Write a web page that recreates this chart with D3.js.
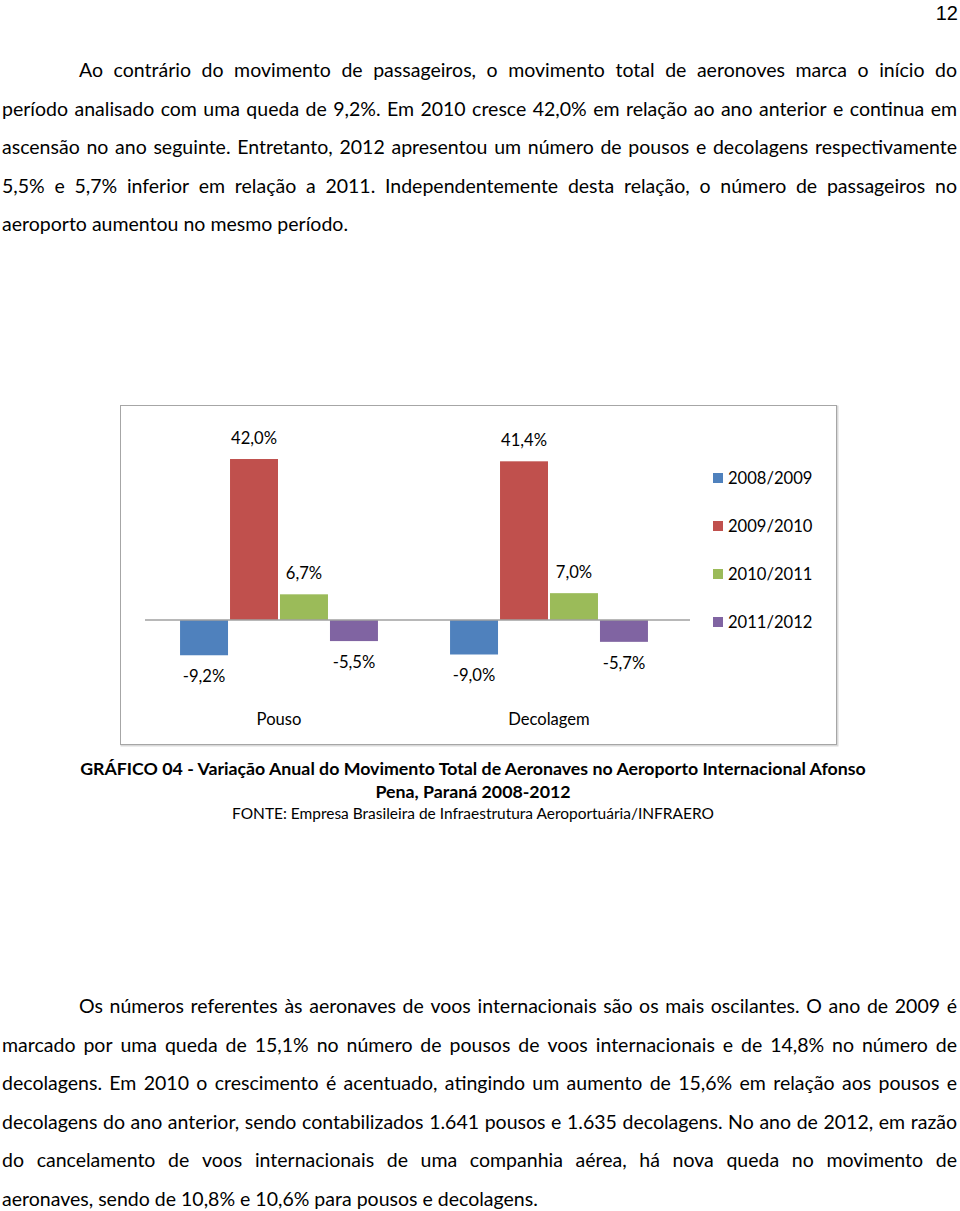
<!DOCTYPE html>
<html><head><meta charset="utf-8">
<script src="https://cdn.jsdelivr.net/npm/d3@7"></script>
<style>body{margin:0;background:#fff}svg{display:block}</style>
</head><body>
<script>
// ---- data ----
const categories = ["Pouso", "Decolagem"];
const series = ["2008/2009", "2009/2010", "2010/2011", "2011/2012"];
const pousoValues = [-9.2, 42.0, 6.7, -5.5];
const decolagemValues = [-9.0, 41.4, 7.0, -5.7];
const seriesColors = ["#4F81BD", "#C0504D", "#9BBB59", "#8064A2"];

const para1 = [
  "Ao contrário do movimento de passageiros, o movimento total de aeronoves marca o início do",
  "período analisado com uma queda de 9,2%. Em 2010 cresce 42,0% em relação ao ano anterior e continua em",
  "ascensão no ano seguinte. Entretanto, 2012 apresentou um número de pousos e decolagens respectivamente",
  "5,5% e 5,7% inferior em relação a 2011. Independentemente desta relação, o número de passageiros no",
  "aeroporto aumentou no mesmo período."
];
const para2 = [
  "Os números referentes às aeronaves de voos internacionais são os mais oscilantes. O ano de 2009 é",
  "marcado por uma queda de 15,1% no número de pousos de voos internacionais e de 14,8% no número de",
  "decolagens. Em 2010 o crescimento é acentuado, atingindo um aumento de 15,6% em relação aos pousos e",
  "decolagens do ano anterior, sendo contabilizados 1.641 pousos e 1.635 decolagens. No ano de 2012, em razão",
  "do cancelamento de voos internacionais de uma companhia aérea, há nova queda no movimento de",
  "aeronaves, sendo de 10,8% e 10,6% para pousos e decolagens."
];
const captionTitle1 = "GRÁFICO 04 - Variação Anual do Movimento Total de Aeronaves no Aeroporto Internacional Afonso";
const captionTitle2 = "Pena, Paraná 2008-2012";
const captionSource = "FONTE: Empresa Brasileira de Infraestrutura Aeroportuária/INFRAERO";
const pageNumber = "12";

// ---- setup ----
const W = 960, H = 1211;
const FONT = "Lato, 'Open Sans', sans-serif";
const CHART_FS = "16.6px";
const svg = d3.select("body").append("svg").attr("width", W).attr("height", H);

const measurer = svg.append("text").attr("x", -1000).attr("y", -1000).style("font-family", FONT);
function measure(str, size, weight) {
  measurer.style("font-size", size + "px").style("font-weight", weight || "normal").text(str);
  return measurer.node().getComputedTextLength();
}
// body font size fitted to the reference width of a free-running last line
const bodySize = 18 * 536 / measure(para2[5], 18);

function paragraph(lines, yStart, lh, indent) {
  const left = 2, right = 957;
  lines.forEach((line, i) => {
    const y = yStart + i * lh;
    const x0 = i === 0 ? indent : left;
    const last = i === lines.length - 1;
    const words = line.split(" ");
    const g = svg.append("g").style("font-family", FONT).style("font-size", bodySize + "px").attr("fill", "#000");
    if (last) {
      g.append("text").attr("x", x0).attr("y", y).text(line);
      return;
    }
    const widths = words.map(w => measure(w, bodySize));
    const total = d3.sum(widths);
    let gap = (right - x0 - total) / (words.length - 1);
    let scale = 1;
    const minGap = measure(" ", bodySize) * 0.6;
    if (gap < minGap) { gap = minGap; scale = (right - x0 - gap * (words.length - 1)) / total; }
    let x = x0;
    words.forEach((w, k) => {
      const t = g.append("text").attr("x", x).attr("y", y).text(w);
      if (scale !== 1) t.attr("textLength", widths[k] * scale).attr("lengthAdjust", "spacingAndGlyphs");
      x += widths[k] * scale + gap;
    });
  });
}

// page number
svg.append("text").attr("x", 958).attr("y", 20).attr("text-anchor", "end")
  .style("font-family", "'Liberation Sans', Arial, sans-serif").style("font-size", "20px").text(pageNumber);

paragraph(para1, 77, 38.6, 79);
paragraph(para2, 1013, 38.6, 79);

// ---- chart ----
// frame
svg.append("rect").attr("x", 121.5).attr("y", 406.5).attr("width", 716).attr("height", 339)
  .attr("fill", "none").attr("stroke", "#d9d9d9").attr("stroke-width", 2);
svg.append("rect").attr("x", 120.5).attr("y", 405.5).attr("width", 716).attr("height", 339)
  .attr("fill", "#fff").attr("stroke", "#a6a6a6").attr("stroke-width", 1);

const x0 = d3.scaleBand().domain(categories).range([144, 684]).paddingInner(0.267).paddingOuter(0.1335);
const x1 = d3.scaleBand().domain(series).range([0, x0.bandwidth()]).paddingInner(0.04);
const y = d3.scaleLinear().domain([-10, 45]).range([620 + 10 * 3.833, 620 - 45 * 3.833]);

const data = categories.map((c, ci) => ({
  cat: c,
  vals: series.map((s, si) => ({ s, si, v: (ci === 0 ? pousoValues : decolagemValues)[si] }))
}));
const fmt = v => d3.format(".1f")(v).replace(".", ",").replace("−", "-") + "%";

const groups = svg.selectAll("g.grp").data(data).join("g").attr("class", "grp")
  .attr("transform", d => `translate(${x0(d.cat)},0)`);
groups.selectAll("rect").data(d => d.vals).join("rect")
  .attr("x", d => x1(d.s)).attr("width", x1.bandwidth())
  .attr("y", d => y(Math.max(0, d.v))).attr("height", d => Math.abs(y(d.v) - y(0)))
  .attr("fill", d => seriesColors[d.si]);
groups.selectAll("text.val").data(d => d.vals).join("text").attr("class", "val")
  .attr("x", d => x1(d.s) + x1.bandwidth() / 2)
  .attr("y", d => d.v >= 0 ? y(d.v) - 21 : y(d.v) + 21)
  .attr("dy", "0.35em").attr("text-anchor", "middle")
  .style("font-family", FONT).style("font-size", CHART_FS).attr("fill", "#000")
  .text(d => fmt(d.v));

// zero line
svg.append("line").attr("x1", 145).attr("x2", 690).attr("y1", y(0)).attr("y2", y(0))
  .attr("stroke", "#a0a0a0").attr("stroke-width", 1.5);

// category labels
svg.selectAll("text.cat").data(categories).join("text").attr("class", "cat")
  .attr("x", d => x0(d) + x0.bandwidth() / 2).attr("y", 719).attr("dy", "0.35em")
  .attr("text-anchor", "middle").style("font-family", FONT).style("font-size", CHART_FS).text(d => d);

// legend
const leg = svg.selectAll("g.leg").data(series).join("g").attr("class", "leg")
  .attr("transform", (d, i) => `translate(713,${478 + i * 48})`);
leg.append("rect").attr("x", 0).attr("y", -5).attr("width", 10).attr("height", 10).attr("fill", (d, i) => seriesColors[i]);
leg.append("text").attr("x", 15).attr("dy", "0.35em").style("font-family", FONT).style("font-size", CHART_FS).text(d => d);

// caption
const capBoldSize = 16 * 786 / measure(captionTitle1, 16, "bold");
svg.append("text").attr("x", 473).attr("y", 769).attr("dy", "0.35em").attr("text-anchor", "middle")
  .style("font-family", FONT).style("font-weight", "bold").style("font-size", capBoldSize + "px").text(captionTitle1);
svg.append("text").attr("x", 473).attr("y", 792).attr("dy", "0.35em").attr("text-anchor", "middle")
  .style("font-family", FONT).style("font-weight", "bold").style("font-size", capBoldSize + "px").text(captionTitle2);
const srcSize = 14 * 482 / measure(captionSource, 14);
svg.append("text").attr("x", 473).attr("y", 814).attr("dy", "0.35em").attr("text-anchor", "middle")
  .style("font-family", FONT).style("font-size", srcSize + "px").text(captionSource);
measurer.remove();
</script>
</body></html>
